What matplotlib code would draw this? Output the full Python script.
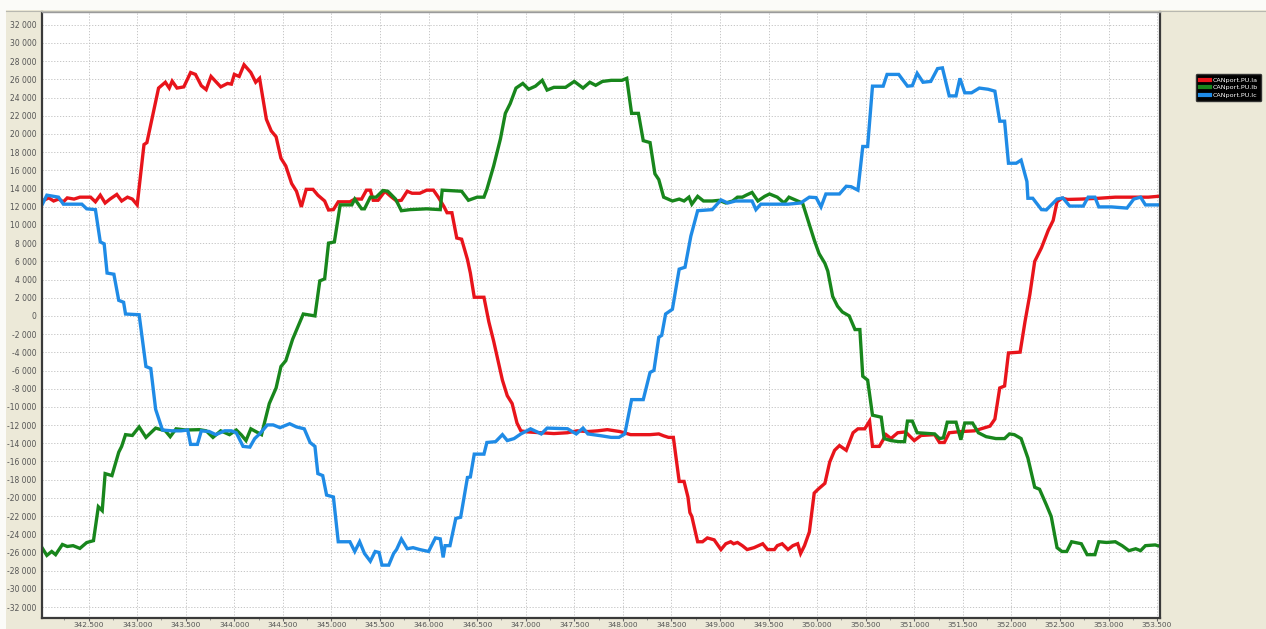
import matplotlib
matplotlib.use("Agg")
import matplotlib.pyplot as plt
from matplotlib.ticker import MultipleLocator, FuncFormatter
from matplotlib.patches import Rectangle
import numpy as np

# ---------------- data ----------------
ia_t = [342.02,342.09,342.14,342.19,342.24,342.28,342.35,342.41,342.52,342.57,342.62,342.67,342.72,342.79,342.84,342.90,342.95,343.00,
        343.07,343.10,343.16,343.22,343.29,343.33,343.36,343.41,343.48,343.55,343.60,343.66,343.71,343.76,343.86,343.93,343.97,344.00,
        344.05,344.10,344.17,344.22,344.26,344.33,344.38,344.43,344.48,344.53,344.59,344.64,344.69,344.74,344.81,344.86,344.93,344.97,
        345.02,345.07,345.19,345.24,345.31,345.36,345.40,345.43,345.48,345.55,345.62,345.67,345.72,345.78,345.83,345.91,345.98,346.05,
        346.10,346.16,346.19,346.24,346.29,346.34,346.40,346.43,346.47,346.57,346.62,346.67,346.72,346.76,346.81,346.86,346.91,346.95,
        347.02,347.16,347.29,347.43,347.53,347.64,347.74,347.84,347.97,348.08,348.18,348.28,348.37,348.42,348.47,348.52,348.58,348.63,
        348.67,348.69,348.71,348.77,348.82,348.87,348.94,349.01,349.06,349.11,349.14,349.18,349.23,349.28,349.35,349.44,349.49,349.56,
        349.59,349.64,349.70,349.75,349.80,349.83,349.87,349.92,349.97,350.01,350.08,350.13,350.18,350.23,350.30,350.37,350.42,350.49,
        350.54,350.57,350.64,350.71,350.76,350.83,350.91,351.00,351.07,351.21,351.26,351.31,351.36,351.48,351.62,351.78,351.83,351.88,
        351.93,351.97,352.09,352.14,352.19,352.24,352.31,352.38,352.43,352.47,352.52,352.58,352.72,352.90,353.07,353.24,353.41,353.55]
ia_v = [12630,12970,12630,12840,12540,12970,12840,13050,13050,12540,13270,12410,12840,13350,12630,13050,12840,12200,
        18830,19050,22040,25040,25680,25040,25800,25040,25170,26750,26540,25300,24870,26320,25170,25550,25470,26540,
        26320,27600,26750,25680,26110,21610,20330,19690,17330,16480,14550,13700,11980,13910,13910,13270,12630,11640,
        11680,12540,12540,12840,12840,13820,13820,12710,12710,13700,13050,12630,12710,13700,13480,13480,13820,13820,
        13050,11980,11340,11340,8560,8430,6210,4710,2050,2050,-640,-2780,-5140,-7060,-8770,-9630,-11770,-12630,
        -12750,-12840,-12930,-12840,-12630,-12710,-12630,-12500,-12710,-13050,-13050,-13050,-12970,-13180,-13350,-13350,-18190,-18190,
        -19900,-21610,-22040,-24820,-24820,-24400,-24610,-25680,-25040,-24820,-25040,-24900,-25250,-25680,-25470,-25040,-25680,-25680,
        -25250,-25040,-25680,-25250,-25040,-26110,-25250,-23750,-19470,-19050,-18400,-16050,-14770,-14250,-14770,-12840,-12410,-12410,
        -11560,-14340,-14340,-13050,-13480,-12840,-12750,-13700,-13140,-13050,-13910,-13910,-12840,-12710,-12630,-12110,-11340,-7920,
        -7700,-4070,-3980,-640,2350,5990,7490,9420,10490,12540,12930,12800,12840,12930,13050,13050,13050,13180]

ib_t = [342.02,342.07,342.12,342.16,342.23,342.28,342.34,342.41,342.48,342.55,342.60,342.64,342.67,342.74,342.81,342.84,342.88,342.95,
        343.02,343.09,343.19,343.29,343.34,343.40,343.50,343.64,343.71,343.78,343.86,343.95,344.02,344.07,344.12,344.17,344.28,344.36,
        344.43,344.48,344.53,344.60,344.71,344.83,344.88,344.93,344.97,345.03,345.09,345.21,345.24,345.31,345.34,345.40,345.46,345.53,
        345.58,345.66,345.72,345.81,345.98,346.12,346.14,346.34,346.41,346.50,346.57,346.60,346.67,346.74,346.79,346.84,346.90,346.97,
        347.03,347.10,347.17,347.22,347.29,347.41,347.50,347.59,347.66,347.72,347.79,347.88,347.99,348.04,348.09,348.16,348.21,348.28,
        348.33,348.37,348.42,348.51,348.58,348.63,348.68,348.71,348.77,348.83,348.92,348.99,349.06,349.13,349.18,349.23,349.27,349.33,
        349.39,349.46,349.51,349.59,349.66,349.71,349.80,349.85,349.92,349.97,350.02,350.08,350.11,350.16,350.21,350.26,350.33,350.39,
        350.44,350.47,350.52,350.57,350.66,350.69,350.76,350.84,350.90,350.93,350.98,351.03,351.21,351.26,351.30,351.34,351.43,351.48,
        351.52,351.60,351.66,351.74,351.84,351.93,351.98,352.03,352.10,352.17,352.24,352.29,352.36,352.41,352.47,352.52,352.57,352.62,
        352.72,352.78,352.86,352.90,352.98,353.07,353.14,353.21,353.28,353.33,353.38,353.48,353.55]
ib_v = [-25470,-26320,-25890,-26240,-25120,-25340,-25250,-25550,-24910,-24700,-20970,-21400,-17330,-17550,-14980,-14340,-13050,-13140,
        -12200,-13350,-12330,-12630,-13270,-12410,-12540,-12500,-12630,-13350,-12630,-13050,-12540,-13050,-13700,-12410,-13050,-9630,
        -7920,-5560,-4920,-2570,210,0,3850,4070,8000,8130,12200,12200,12840,11770,11770,13050,13050,13780,
        13700,12840,11560,11680,11770,11680,13820,13700,12710,13050,13050,13910,16480,19470,22260,23330,25040,25550,
        24910,25250,25890,24820,25120,25120,25770,25040,25680,25340,25770,25890,25890,26110,22260,22260,19260,19050,
        15620,14980,13050,12630,12840,12630,13050,12280,13140,12630,12630,12700,12410,12630,13050,13050,13270,13570,
        12630,13140,13400,13050,12410,13050,12630,12410,10060,8350,6850,5780,4920,2140,1070,430,0,-1500,
        -1500,-6630,-7060,-10910,-11130,-13480,-13700,-13820,-13820,-11560,-11560,-12840,-12970,-13480,-13400,-11680,-11680,-13610,
        -11770,-11770,-12840,-13270,-13480,-13480,-12970,-13050,-13480,-15620,-18830,-19050,-20760,-22040,-25470,-25890,-25890,-24820,
        -25040,-26240,-26240,-24820,-24900,-24820,-25250,-25800,-25590,-25800,-25250,-25170,-25380]

ic_t = [342.02,342.07,342.14,342.19,342.24,342.33,342.43,342.48,342.57,342.62,342.66,342.69,342.76,342.81,342.86,342.88,343.02,343.09,
        343.14,343.19,343.26,343.36,343.45,343.52,343.55,343.62,343.66,343.74,343.81,343.90,343.97,344.02,344.09,344.16,344.21,344.26,
        344.34,344.40,344.47,344.57,344.64,344.72,344.78,344.83,344.86,344.91,344.95,345.02,345.07,345.19,345.24,345.29,345.34,345.40,
        345.45,345.49,345.52,345.59,345.64,345.67,345.72,345.78,345.84,345.91,346.00,346.07,346.12,346.15,346.17,346.22,346.28,346.33,
        346.40,346.43,346.47,346.57,346.60,346.69,346.76,346.81,346.88,346.95,347.05,347.16,347.22,347.43,347.52,347.59,347.64,347.78,
        347.88,347.96,348.02,348.09,348.21,348.28,348.32,348.37,348.40,348.44,348.51,348.58,348.64,348.70,348.77,348.92,349.01,349.08,
        349.16,349.33,349.37,349.42,349.59,349.70,349.83,349.92,349.99,350.04,350.09,350.23,350.30,350.35,350.42,350.47,350.52,350.57,
        350.68,350.72,350.84,350.93,350.98,351.03,351.09,351.17,351.24,351.29,351.36,351.43,351.47,351.52,351.59,351.67,351.76,351.83,
        351.88,351.93,351.97,352.05,352.10,352.16,352.17,352.22,352.31,352.36,352.47,352.53,352.60,352.74,352.79,352.86,352.90,353.03,
        353.19,353.26,353.33,353.38,353.55]
ic_v = [12200,13270,13140,13050,12280,12280,12280,11770,11680,8130,7920,4710,4580,1710,1500,210,130,-5560,
        -5780,-10270,-12540,-12630,-12630,-12540,-14120,-14120,-12630,-12700,-13050,-12630,-12630,-12840,-14340,-14420,-13480,-12970,
        -11980,-11980,-12280,-11850,-12200,-12410,-13910,-14340,-17330,-17550,-19690,-19900,-24820,-24820,-25890,-24820,-26110,-26960,
        -25890,-26000,-27390,-27390,-26110,-25680,-24520,-25590,-25470,-25680,-25890,-24400,-24500,-26540,-25250,-25250,-22260,-22130,
        -17760,-17700,-15190,-15190,-13910,-13820,-13050,-13700,-13480,-12970,-12410,-12970,-12330,-12400,-12970,-12330,-12970,-13180,
        -13350,-13350,-12970,-9200,-9200,-6210,-5990,-2350,-2140,210,730,5140,5350,8770,11560,11680,12750,12410,
        12630,12630,11680,12280,12280,12280,12410,13050,13000,11980,13400,13400,14250,14200,13820,18620,18620,25250,
        25250,26540,26540,25250,25300,26660,25680,25770,27180,27260,24180,24180,26110,24520,24520,25040,24910,24700,
        21400,21400,16780,16780,17120,14770,12930,12930,11680,11650,12840,12970,12070,12070,13050,13050,11980,11980,
        11850,12840,13050,12200,12200]

series_names = ["CANport.PU.Ia", "CANport.PU.Ib", "CANport.PU.Ic"]
series_colors = ["#e8141b", "#18861c", "#1f8be6"]

# ---------------- figure ----------------
W, H = 1266, 629
fig = plt.figure(figsize=(W / 100, H / 100), dpi=100, facecolor="#ece9d8")
# light strips at top and far left like the source window
fig.patches.append(Rectangle((0, 1 - 10 / H), 1, 10 / H, transform=fig.transFigure,
                             facecolor="#fbfbf8", edgecolor="none", zorder=0))
fig.patches.append(Rectangle((0, 0), 6 / W, 1, transform=fig.transFigure,
                             facecolor="#fbfbf8", edgecolor="none", zorder=0))
fig.lines.append(plt.Line2D([6 / W, 1], [1 - 10.5 / H, 1 - 10.5 / H], transform=fig.transFigure,
                            color="#b8b8b0", lw=0.8))

ax = fig.add_axes([42 / W, 1 - 618 / H, (1160 - 42) / W, (618 - 12) / H])
ax.set_facecolor("white")

for t, v, c, n in zip([ia_t, ib_t, ic_t], [ia_v, ib_v, ic_v], series_colors, series_names):
    ax.plot(t, v, color=c, lw=2.4, label=n, solid_joinstyle="miter")

ax.set_xlim(342.02, 353.53)
ax.set_ylim(-33200, 33400)
ax.xaxis.set_major_locator(MultipleLocator(0.5))
ax.xaxis.set_minor_locator(MultipleLocator(0.25))
ax.yaxis.set_major_locator(MultipleLocator(2000))
ax.xaxis.set_major_formatter(FuncFormatter(lambda v, p: f"{v:.3f}"))
ax.yaxis.set_major_formatter(FuncFormatter(lambda v, p: f"{int(round(v)):,}".replace(",", " ")))
ax.tick_params(axis="y", length=0, pad=4, labelsize=5.5, labelcolor="#555555")
ax.tick_params(axis="x", which="major", length=2, pad=1, labelsize=5.3, labelcolor="#555555", color="#666666")
ax.tick_params(axis="x", which="minor", length=1.5, color="#888888")
ax.grid(True, which="major", color="#bdbdbd", linestyle=(0, (1.5, 2)), linewidth=0.6)

for side in ["left", "bottom", "right"]:
    ax.spines[side].set_color("#3a3a3a")
    ax.spines[side].set_linewidth(1.6)
ax.spines["top"].set_color("#9a9a9a")
ax.spines["top"].set_linewidth(1.0)

leg = fig.legend(loc="upper left", bbox_to_anchor=(1196 / W, 1 - 74 / H), fontsize=4.6,
                 frameon=True, fancybox=True, facecolor="black", edgecolor="#333333",
                 handlelength=1.6, handletextpad=0.4, borderpad=0.55, borderaxespad=0,
                 labelspacing=0.3)
for txt in leg.get_texts():
    txt.set_color("white")
for line in leg.get_lines():
    line.set_linewidth(3)
leg.get_frame().set_alpha(1)

fig.savefig("out.png", dpi=100, facecolor=fig.get_facecolor())
